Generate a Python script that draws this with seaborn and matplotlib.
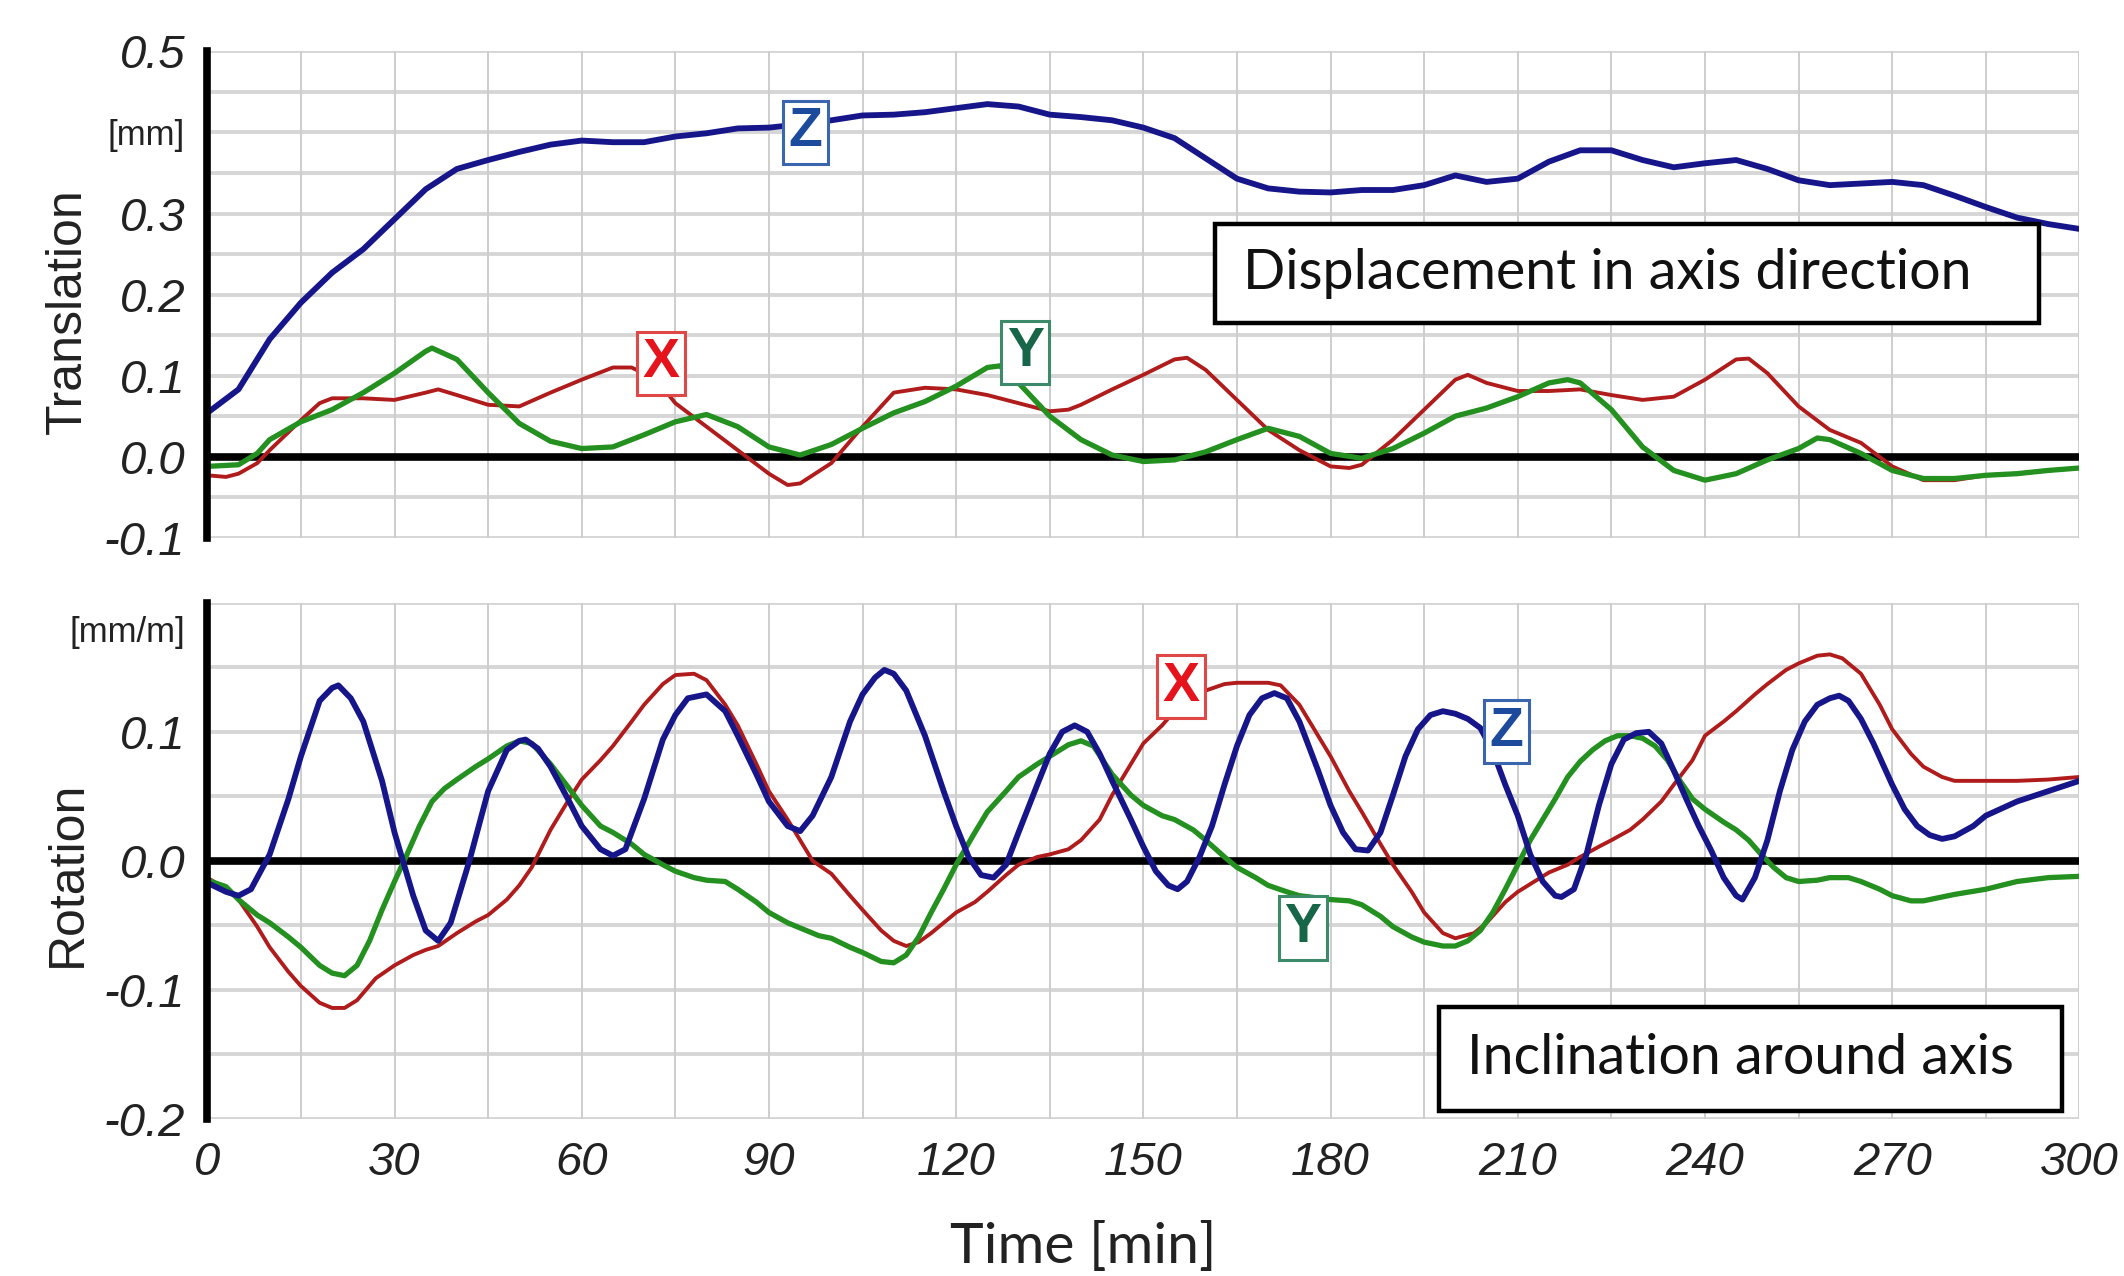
import numpy as np
import pandas as pd
import seaborn as sns
import matplotlib.pyplot as plt
from matplotlib.colors import to_hex
from matplotlib.patches import Rectangle

# values (time in min, translation in mm, rotation in mm/m)
trans_x_t = [0, 3, 5, 8, 10, 15, 18, 20, 25, 30, 35, 37, 40, 45, 50, 55, 60, 65, 68, 72,
             75, 80, 85, 90, 93, 95, 100, 105, 110, 115, 120, 125, 130, 135, 138, 140, 145, 150, 155, 157,
             160, 165, 170, 175, 180, 183, 185, 190, 195, 200, 202, 205, 210, 215, 220, 225, 230, 235, 240, 245,
             247, 250, 255, 260, 265, 270, 275, 280, 285, 290, 295, 300]
trans_x_v = [-0.023, -0.025, -0.021, -0.008, 0.008, 0.045, 0.066, 0.072, 0.072, 0.070, 0.079, 0.083, 0.076, 0.064, 0.062, 0.079, 0.095, 0.110, 0.110, 0.095,
             0.066, 0.037, 0.008, -0.021, -0.035, -0.033, -0.008, 0.037, 0.079, 0.085, 0.083, 0.076, 0.066, 0.056, 0.058, 0.064, 0.083, 0.101, 0.120, 0.122,
             0.107, 0.070, 0.033, 0.008, -0.012, -0.014, -0.010, 0.021, 0.058, 0.095, 0.101, 0.091, 0.081, 0.081, 0.083, 0.076, 0.070, 0.074, 0.095, 0.120,
             0.121, 0.103, 0.062, 0.033, 0.017, -0.012, -0.029, -0.029, -0.023, -0.021, -0.017, -0.014]

trans_y_t = [0, 5, 8, 10, 15, 20, 25, 30, 35, 36, 40, 45, 50, 55, 60, 65, 70, 75, 80, 85,
             90, 95, 100, 105, 110, 115, 120, 125, 127, 130, 135, 140, 145, 150, 155, 160, 165, 170, 175, 180,
             185, 190, 195, 200, 205, 210, 215, 218, 220, 225, 230, 235, 240, 245, 250, 255, 258, 260, 265, 270,
             275, 280, 285, 290, 295, 300]
trans_y_v = [-0.012, -0.010, 0.004, 0.021, 0.043, 0.058, 0.079, 0.103, 0.130, 0.134, 0.120, 0.079, 0.041, 0.019, 0.010, 0.012, 0.027, 0.043, 0.052, 0.037,
             0.012, 0.002, 0.015, 0.035, 0.054, 0.068, 0.087, 0.110, 0.112, 0.091, 0.050, 0.021, 0.002, -0.006, -0.004, 0.006, 0.021, 0.035, 0.025, 0.004,
             -0.002, 0.010, 0.029, 0.050, 0.060, 0.074, 0.091, 0.095, 0.091, 0.058, 0.012, -0.017, -0.029, -0.021, -0.004, 0.010, 0.023, 0.021, 0.004, -0.017,
             -0.027, -0.027, -0.023, -0.021, -0.017, -0.014]

trans_z_t = list(range(0, 301, 5))
trans_z_v = [0.054, 0.083, 0.145, 0.190, 0.227, 0.256, 0.293, 0.330, 0.355, 0.366, 0.376, 0.385, 0.390, 0.388, 0.388, 0.395, 0.399, 0.405, 0.406, 0.410,
             0.415, 0.421, 0.422, 0.425, 0.430, 0.435, 0.432, 0.422, 0.419, 0.415, 0.406, 0.393, 0.368, 0.343, 0.331, 0.327, 0.326, 0.329, 0.329, 0.335,
             0.347, 0.339, 0.343, 0.364, 0.378, 0.378, 0.366, 0.357, 0.362, 0.366, 0.355, 0.341, 0.335, 0.337, 0.339, 0.335, 0.322, 0.308, 0.295, 0.287,
             0.281]

rot_x_t = [0, 3, 5, 8, 10, 13, 15, 18, 20, 22, 24, 27, 30, 33, 35, 37, 40, 43, 45, 48,
           50, 52, 55, 58, 60, 63, 65, 68, 70, 73, 75, 78, 80, 83, 85, 88, 90, 93, 95, 97,
           100, 103, 105, 108, 110, 112, 114, 116, 118, 120, 123, 125, 128, 130, 133, 135, 138, 140, 143, 145,
           148, 150, 153, 155, 158, 160, 163, 165, 168, 170, 172, 175, 178, 180, 183, 185, 188, 190, 193, 195,
           198, 200, 203, 205, 208, 210, 213, 215, 218, 220, 223, 225, 228, 230, 233, 235, 238, 240, 243, 245,
           248, 250, 253, 255, 258, 260, 262, 265, 268, 270, 273, 275, 278, 280, 285, 290, 295, 300]
rot_x_v = [-0.013, -0.022, -0.030, -0.051, -0.067, -0.086, -0.097, -0.110, -0.114, -0.114, -0.108, -0.091, -0.081, -0.073, -0.069, -0.066, -0.056, -0.047, -0.042, -0.030,
           -0.019, -0.005, 0.024, 0.048, 0.063, 0.078, 0.089, 0.108, 0.121, 0.137, 0.144, 0.145, 0.140, 0.121, 0.105, 0.075, 0.054, 0.032, 0.016, 0.000,
           -0.010, -0.027, -0.038, -0.054, -0.062, -0.066, -0.063, -0.056, -0.048, -0.040, -0.032, -0.024, -0.011, -0.003, 0.003, 0.005, 0.009, 0.016, 0.032, 0.051,
           0.075, 0.091, 0.105, 0.116, 0.124, 0.132, 0.137, 0.138, 0.138, 0.138, 0.136, 0.121, 0.097, 0.081, 0.054, 0.038, 0.013, -0.003, -0.024, -0.040,
           -0.056, -0.060, -0.056, -0.048, -0.032, -0.024, -0.015, -0.009, -0.003, 0.003, 0.011, 0.016, 0.024, 0.032, 0.046, 0.059, 0.078, 0.097, 0.108, 0.116,
           0.129, 0.137, 0.148, 0.153, 0.159, 0.160, 0.157, 0.145, 0.121, 0.102, 0.083, 0.073, 0.065, 0.062, 0.062, 0.062, 0.063, 0.065]

rot_y_t = [0, 3, 5, 8, 10, 13, 15, 18, 20, 22, 24, 26, 28, 30, 32, 34, 36, 38, 40, 43,
           45, 48, 50, 52, 55, 58, 60, 63, 65, 68, 70, 73, 75, 78, 80, 83, 85, 88, 90, 93,
           95, 98, 100, 103, 105, 108, 110, 112, 114, 116, 118, 120, 123, 125, 128, 130, 133, 135, 138, 140,
           142, 145, 148, 150, 153, 155, 158, 160, 163, 165, 168, 170, 173, 175, 180, 183, 185, 188, 190, 193,
           195, 198, 200, 202, 204, 206, 208, 210, 212, 214, 216, 218, 220, 222, 224, 226, 228, 230, 232, 234,
           236, 238, 240, 243, 245, 247, 249, 251, 253, 255, 258, 260, 263, 265, 268, 270, 273, 275, 278, 280,
           285, 290, 295, 300]
rot_y_v = [-0.015, -0.020, -0.030, -0.042, -0.048, -0.059, -0.067, -0.081, -0.087, -0.089, -0.081, -0.062, -0.038, -0.016, 0.005, 0.027, 0.046, 0.056, 0.063, 0.073,
           0.079, 0.089, 0.093, 0.091, 0.075, 0.056, 0.043, 0.027, 0.022, 0.013, 0.005, -0.003, -0.008, -0.013, -0.015, -0.016, -0.022, -0.032, -0.040, -0.048,
           -0.052, -0.058, -0.060, -0.067, -0.071, -0.078, -0.079, -0.073, -0.059, -0.040, -0.022, -0.003, 0.022, 0.038, 0.054, 0.065, 0.075, 0.081, 0.090, 0.093,
           0.089, 0.067, 0.051, 0.043, 0.035, 0.032, 0.024, 0.016, 0.003, -0.005, -0.013, -0.019, -0.024, -0.027, -0.030, -0.031, -0.034, -0.043, -0.051, -0.059,
           -0.063, -0.066, -0.066, -0.062, -0.054, -0.040, -0.022, -0.003, 0.016, 0.032, 0.048, 0.065, 0.077, 0.086, 0.093, 0.097, 0.097, 0.095, 0.089, 0.078,
           0.062, 0.048, 0.040, 0.030, 0.024, 0.016, 0.005, -0.005, -0.013, -0.016, -0.015, -0.013, -0.013, -0.016, -0.022, -0.027, -0.031, -0.031, -0.028, -0.026,
           -0.022, -0.016, -0.013, -0.012]

rot_z_t = [0, 3, 5, 7, 10, 13, 15, 18, 20, 21, 23, 25, 28, 30, 33, 35, 37, 39, 40, 42,
           45, 48, 50, 51, 53, 55, 58, 60, 63, 65, 67, 70, 73, 75, 77, 80, 83, 85, 88, 90,
           93, 95, 97, 100, 103, 105, 107, 108.5, 110, 112, 115, 118, 120, 122, 124, 126, 128, 130, 133, 135,
           137, 139, 141, 143, 145, 148, 150, 152, 154, 155.5, 157, 159, 161, 163, 165, 167, 169, 171, 173, 175,
           178, 180, 182, 184, 186, 188, 190, 192, 194, 196, 198, 200, 202, 204, 206, 208, 210, 212, 214, 216,
           217, 219, 221, 223, 225, 227, 229, 231, 233, 235, 237, 239, 241, 243, 245, 246, 248, 250, 252, 254,
           256, 258, 260, 261.5, 263, 265, 267, 270, 272, 274, 276, 278, 280, 283, 285, 290, 295, 300]
rot_z_v = [-0.017, -0.024, -0.027, -0.022, 0.005, 0.048, 0.081, 0.124, 0.134, 0.136, 0.126, 0.108, 0.062, 0.022, -0.027, -0.054, -0.062, -0.048, -0.032, 0.000,
           0.054, 0.086, 0.093, 0.094, 0.087, 0.073, 0.046, 0.027, 0.009, 0.004, 0.009, 0.048, 0.094, 0.113, 0.126, 0.129, 0.116, 0.097, 0.067, 0.046,
           0.027, 0.023, 0.035, 0.065, 0.108, 0.129, 0.142, 0.148, 0.145, 0.132, 0.097, 0.054, 0.027, 0.003, -0.011, -0.013, -0.003, 0.022, 0.059, 0.083,
           0.100, 0.105, 0.100, 0.083, 0.062, 0.032, 0.011, -0.008, -0.019, -0.022, -0.016, 0.003, 0.027, 0.059, 0.089, 0.113, 0.126, 0.130, 0.126, 0.108,
           0.070, 0.043, 0.022, 0.009, 0.008, 0.022, 0.051, 0.081, 0.102, 0.113, 0.116, 0.114, 0.110, 0.103, 0.085, 0.059, 0.035, 0.005, -0.016, -0.027,
           -0.028, -0.022, 0.005, 0.043, 0.075, 0.094, 0.099, 0.100, 0.091, 0.070, 0.048, 0.027, 0.008, -0.013, -0.027, -0.030, -0.013, 0.016, 0.054, 0.086,
           0.108, 0.121, 0.126, 0.128, 0.124, 0.110, 0.091, 0.059, 0.040, 0.027, 0.020, 0.017, 0.019, 0.027, 0.035, 0.046, 0.054, 0.062]

time_ticks = list(range(0, 301, 30))
trans_ticks = [-0.1, 0.0, 0.1, 0.2, 0.3, 0.4, 0.5]
trans_tick_labels = ["-0.1", "0.0", "0.1", "0.2", "0.3", "[mm]", "0.5"]
rot_ticks = [-0.2, -0.1, 0.0, 0.1, 0.18]
rot_tick_labels = ["-0.2", "-0.1", "0.0", "0.1", "[mm/m]"]

line_colors = {"X": "#b01c1c", "Y": "#23901f", "Z": "#16168a"}
line_widths = {"X": 2.8, "Y": 3.8, "Z": 4.2}
tag_colors = {"X": ("#e5141c", "#e04848"), "Y": ("#17664a", "#3d8a6a"), "Z": ("#1c4a9c", "#3a66b0")}

NARROW = ["Liberation Sans Narrow", "Liberation Sans", "DejaVu Sans"]
BOXFONT = ["Lato", "DejaVu Sans"]


def long_frame(series):
    rows = []
    for name, (t, v) in series.items():
        for ti, vi in zip(t, v):
            rows.append((ti, vi, name))
    return pd.DataFrame(rows, columns=["time", "value", "axis"])


def style_axes(ax, ylo, yhi):
    ax.set_xlim(0, 300)
    ax.set_ylim(ylo, yhi)
    for y in np.arange(ylo, yhi + 1e-9, 0.05):
        ax.axhline(y, color="#d6d6d6", lw=2.8, zorder=0)
    for x in range(15, 301, 15):
        ax.axvline(x, color="#cdcdcd", lw=1.4, zorder=0)
    ax.axhline(0, color="black", lw=5.5, zorder=1.5)
    for side in ["top", "right", "bottom"]:
        ax.spines[side].set_visible(False)
    ax.spines["left"].set_color("black")
    ax.spines["left"].set_linewidth(5.5)
    ax.spines["left"].set_zorder(5)
    ax.tick_params(length=0, pad=16)
    ax.set_xlabel("")
    ax.set_ylabel("")


def draw_lines(ax, df):
    sns.lineplot(data=df, x="time", y="value", hue="axis",
                 hue_order=["X", "Y", "Z"], palette=line_colors,
                 estimator=None, sort=False, legend=False, ax=ax, zorder=2)
    # seaborn keeps one width for all hues, so thicken per series afterwards
    width_by_color = {to_hex(c): line_widths[k] for k, c in line_colors.items()}
    for line in ax.get_lines():
        line.set_linewidth(width_by_color.get(to_hex(line.get_color()), 3))
        line.set_solid_joinstyle("round")
        line.set_solid_capstyle("round")


def set_tick_text(labels, units):
    for lbl in labels:
        if lbl.get_text() in units:
            lbl.set_fontstyle("normal")
            lbl.set_fontsize(25)
        else:
            lbl.set_fontstyle("italic")
            lbl.set_fontsize(34)
        lbl.set_family(NARROW)
        lbl.set_color("#222222")


def tag(ax, x, y, letter):
    fg, edge = tag_colors[letter]
    ax.text(x, y, letter, color=fg, fontsize=40, fontweight="bold", family=NARROW,
            ha="center", va="center", zorder=6,
            bbox=dict(boxstyle="square,pad=0.1", fc="white", ec=edge, lw=2.2))


def note(ax, x0, x1, y0, y1, text):
    ax.add_patch(Rectangle((x0, y0), x1 - x0, y1 - y0, fc="white", ec="black",
                           lw=3.2, zorder=5))
    ax.text(x0 + 4.5, (y0 + y1) / 2, text, fontsize=40, family=BOXFONT,
            color="#111111", ha="left", va="center", zorder=6)


def main():
    sns.set_theme(style="white")
    plt.rcParams["font.family"] = ["Liberation Sans", "DejaVu Sans"]

    fig = plt.figure(figsize=(21.24, 12.76), dpi=100)
    ax_t = fig.add_axes([0.0976, 0.5786, 0.8814, 0.3811])
    ax_r = fig.add_axes([0.0976, 0.1231, 0.8814, 0.4045])

    trans = long_frame({"X": (trans_x_t, trans_x_v), "Y": (trans_y_t, trans_y_v),
                        "Z": (trans_z_t, trans_z_v)})
    rot = long_frame({"X": (rot_x_t, rot_x_v), "Y": (rot_y_t, rot_y_v),
                      "Z": (rot_z_t, rot_z_v)})

    draw_lines(ax_t, trans)
    draw_lines(ax_r, rot)
    style_axes(ax_t, -0.1, 0.5)
    style_axes(ax_r, -0.2, 0.2)

    ax_t.set_xticks(time_ticks)
    ax_t.tick_params(labelbottom=False)
    ax_t.set_yticks(trans_ticks, trans_tick_labels)
    ax_r.set_xticks(time_ticks, [str(t) for t in time_ticks])
    ax_r.set_yticks(rot_ticks, rot_tick_labels)
    set_tick_text(ax_t.get_yticklabels(), ["[mm]"])
    set_tick_text(ax_r.get_yticklabels(), ["[mm/m]"])
    set_tick_text(ax_r.get_xticklabels(), [])

    tag(ax_t, 95.9, 0.40, "Z")
    tag(ax_t, 72.7, 0.115, "X")
    tag(ax_t, 131.1, 0.129, "Y")
    tag(ax_r, 156.1, 0.135, "X")
    tag(ax_r, 208.2, 0.10, "Z")
    tag(ax_r, 175.6, -0.052, "Y")

    note(ax_t, 161.5, 293.5, 0.165, 0.287, "Displacement in axis direction")
    note(ax_r, 197.3, 297.2, -0.194, -0.113, "Inclination around axis")

    fig.text(0.032, 0.756, "Translation", rotation=90, ha="center", va="center",
             fontsize=36, color="#222222")
    fig.text(0.032, 0.315, "Rotation", rotation=90, ha="center", va="center",
             fontsize=36, color="#222222")
    fig.text(0.510, 0.022, "Time [min]", ha="center", va="center",
             fontsize=41, family=BOXFONT, color="#222222")

    fig.savefig("out.png", dpi=100, facecolor="white")


if __name__ == "__main__":
    main()
